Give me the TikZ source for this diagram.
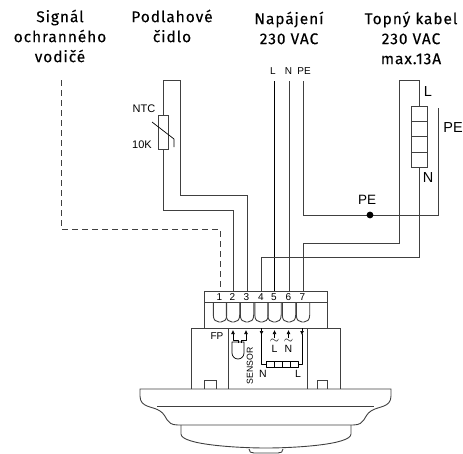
\documentclass[tikz,border=0pt]{standalone}
\usepackage{fontspec}
\setmainfont{Liberation Sans}
\newfontfamily\headfont[LetterSpace=6,FakeBold=0.15]{Fira Sans}
\usetikzlibrary{arrows.meta}
\definecolor{wiregray}{rgb}{0.25, 0.25, 0.25}
\tikzset{
	wire/.style={line width=0.9pt,color=wiregray,line join=miter},
	thin wire/.style={line width=0.7pt,color=black},
	sig wire/.style={wire,dash pattern=on 6pt off 4pt},
	head/.style={font=\headfont\fontsize{15.5}{20}\selectfont,align=center,color=black,inner sep=0pt},
	small/.style={font=\fontsize{10}{12}\selectfont,inner sep=0pt},
	big/.style={font=\fontsize{14.5}{16}\selectfont,inner sep=0pt},
	cell/.style={draw,wire,fill=white,inner sep=0pt,minimum width=#1},
	thin cell/.style={draw,thin wire,fill=white,inner sep=0pt,minimum width=#1}
}
\begin{document}
\begin{tikzpicture}[line cap=butt,line join=round, x=1pt,y=-1pt]
	\useasboundingbox (0,0) rectangle (463,453);
	\node[head] (sig) at (60,36) {Signál\\ochranného\\vodičé};
	\node[head] (cidlo) at (172,26) {Podlahové\\čidlo};
	\node[head] (nap) at (289,28) {Napájení\\230 VAC};
	\node[head] (kabel) at (411,38) {Topný kabel\\230 VAC\\max.13A};
	\foreach \n/\x in {1/220,2/233,3/247,4/261.5,5/274.5,6/289,7/303}{
		\coordinate (t\n) at (\x,291);
		\node[small,font=\fontsize{10}{11}\selectfont] (num\n) at (\x-0.5,297.5) {\n};
		\draw[wire] (\x-6.7,302) -- (\x-6.7,315) .. controls (\x-6.7,320) and (\x-4,322) .. (\x-1,322) -- (\x+1,322) .. controls (\x+4,322) and (\x+6.7,320) .. (\x+6.7,315) -- (\x+6.7,302);
	}
	\node[small] (lbl) at (273,71) {L};
	\node[small] (nbl) at (288.5,71) {N};
	\node[small] (pbl) at (304,71) {PE};
	\coordinate (ltop) at (274.5,81);
	\coordinate (ntop) at (289,81);
	\coordinate (ptop) at (303,81);
	\coordinate (sig a) at (61,80);
	\coordinate (ntc a) at (163,80);
	\coordinate (ntc b) at (180,80);
	\node[cell=10pt,minimum height=34pt] (ntc) at (163,132) {};
	\node[small,font=\fontsize{11}{13}\selectfont] (ntclbl) at (144,109) {NTC};
	\node[small,font=\fontsize{11}{13}\selectfont] (kilo) at (142,145) {10K};
	\draw[sig wire] (sig a) -- (61,229) -- (220,229) -- (t1);
	\draw[wire] (ntc a) -- (ntc b) -- (180,195) -- (247,195) -- (t3);
	\draw[wire] (ntc a) -- (ntc.north);
	\draw[wire] (ntc.south) -- (163,210) -- (233,210) -- (t2);
	\draw[thin wire] (152,122) -- (174,139) -- (174,147);
	\draw[thin wire] (ltop) -- (t5);
	\draw[wire] (ntop) -- (t6);
	\draw[wire] (ptop) -- (303,215) -- (438,215) -- (438,108);
	\fill[color=black] (370,215) circle (3.4pt);
	\node[big,font=\fontsize{13.5}{16}\selectfont] (pe mid) at (367,200) {PE};
	\node[cell=16pt,minimum height=15.25pt] (r1) at (419,114) {};
	\node[cell=16pt,minimum height=15.25pt] (r2) at (419,129.25) {};
	\node[cell=16pt,minimum height=15.25pt] (r3) at (419,144.5) {};
	\node[cell=16pt,minimum height=15.25pt] (r4) at (419,159.75) {};
	\node[big] (l top) at (428,92) {L};
	\node[big] (n top) at (428,178) {N};
	\node[big] (pe top) at (453,128) {PE};
	\draw[wire] (r1.north) -- (419,80) -- (399,80) -- (399,243) -- (303,243) -- (t7);
	\draw[wire] (r4.south) -- (419,257) -- (261.5,257) -- (t4);
	\draw[wire] (204,328) -- (204,291) -- (327,291) -- (327,328);
	\draw[wire] (204,302) -- (327,302);
	\draw[wire] (191,389) -- (191,328) -- (340,328) -- (340,389);
	\draw[wire] (228,328) -- (228,389);
	\draw[wire] (307,328) -- (307,389);
	\draw[wire] (204,389) -- (204,380) -- (216,380) -- (216,389);
	\draw[wire] (317,389) -- (317,380) -- (327,380) -- (327,389);
	\node[small] (fp) at (217,336) {FP};
	\node[small,font=\fontsize{8.7}{10}\selectfont,rotate=90] (sensor) at (250,366) {SENSOR};
	\draw[thin wire,-{Latex[length=4pt,width=4pt]}] (238,343) -- (238,340) -- (233,340) -- (233,330);
	\draw[thin wire,-{Latex[length=4pt,width=4pt]}] (241,343) -- (241,340) -- (246,340) -- (246,330);
	\draw[thin wire] (232,342) -- (232,353) arc[start angle=180,end angle=0,radius=6] -- (244,342) -- cycle;
	\draw[thin wire,-{Latex[length=4pt,width=4pt]}] (274.5,338) -- (274.5,330);
	\draw[thin wire,-{Latex[length=4pt,width=4pt]}] (288.5,338) -- (288.5,330);
	\node[small,font=\fontsize{13}{14}\selectfont] (tilde l) at (274.5,341) {$\sim$};
	\node[small,font=\fontsize{13}{14}\selectfont] (tilde n) at (288.5,341) {$\sim$};
	\node[small,font=\fontsize{10.5}{12}\selectfont] (in l) at (274.5,349) {L};
	\node[small,font=\fontsize{10.5}{12}\selectfont] (in n) at (288.5,349) {N};
	\draw[thin wire,-{Latex[length=4pt,width=4pt]}] (261.5,328) -- (261.5,335);
	\draw[thin wire,-{Latex[length=4pt,width=4pt]}] (302,328) -- (302,335);
	\foreach \n/\x in {1/270,2/278,3/286,4/294}
		\node[thin cell=8pt,minimum height=6pt] (h\n) at (\x,364) {};
	\draw[thin wire] (h1.west) -- (261.5,364) -- (261.5,334);
	\draw[thin wire] (h4.east) -- (302,364) -- (302,334);
	\node[small,font=\fontsize{10.5}{12}\selectfont] (h n) at (263,374) {N};
	\node[small,font=\fontsize{10.5}{12}\selectfont] (h l) at (298,374) {L};
	\draw[wire] (178,425) .. controls (165,425) and (168,416) .. (160,411) .. controls (153,406) and (140,408) .. (140,396) -- (140,389) -- (391,389) -- (391,396) .. controls (391,408) and (378,406) .. (371,411) .. controls (363,416) and (366,425) .. (353,425) -- cycle;
	\draw[wire] (157,406) -- (374,406);
	\draw[wire] (181,425) -- (181,434) .. controls (181,445) and (240,448) .. (266,448) .. controls (292,448) and (351,445) .. (351,434) -- (351,425);
	\draw[wire] (249,449) .. controls (249,452) and (251,453) .. (254,453) -- (278,453) .. controls (281,453) and (283,452) .. (283,449);
\end{tikzpicture}
\end{document}
